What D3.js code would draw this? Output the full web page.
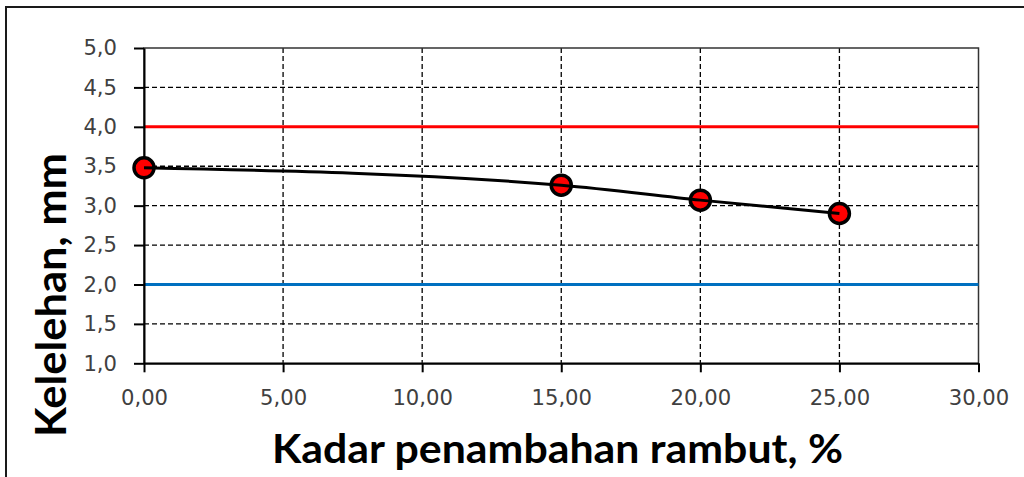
<!DOCTYPE html>
<html><head><meta charset="utf-8">
<script src="https://cdn.jsdelivr.net/npm/d3@7"></script>
<style>html,body{margin:0;padding:0;background:#fff;}svg{display:block;}</style>
</head><body>
<svg id="c" width="1024" height="477"></svg>
<script>
const xValues = [0, 15, 20, 25];
const yValues = [3.48, 3.26, 3.07, 2.90];
const upperLimit = 4.0;
const lowerLimit = 2.0;
const xTicks = [0, 5, 10, 15, 20, 25, 30];
const yTicks = [1.0, 1.5, 2.0, 2.5, 3.0, 3.5, 4.0, 4.5, 5.0];
const xTitle = "Kadar penambahan rambut, %";
const yTitle = "Kelelehan, mm";

const svg = d3.select("#c");
const L = 144, R = 978.5, T = 48, B = 363.3;
const x = d3.scaleLinear().domain([0, 30]).range([L, R]);
const y = d3.scaleLinear().domain([1, 5]).range([B, T]);
const fmt1 = d => d.toFixed(1).replace(".", ",");
const fmt2 = d => d.toFixed(2).replace(".", ",");
const SX = 1.12;

// outer frame
svg.append("rect").attr("x", 6).attr("y", 7).attr("width", 1030).attr("height", 490)
  .attr("fill", "none").attr("stroke", "#1a1a1a").attr("stroke-width", 2);

// gridlines
const grid = svg.append("g").attr("stroke", "#000").attr("stroke-width", 1.3).attr("stroke-dasharray", "5,3");
grid.selectAll("line.h").data(yTicks.filter(d => d > 1 && d < 5)).join("line")
  .attr("x1", L).attr("x2", R).attr("y1", d => y(d)).attr("y2", d => y(d));
grid.selectAll("line.v").data(xTicks.filter(d => d > 0 && d < 30)).join("line")
  .attr("y1", T).attr("y2", B).attr("x1", d => x(d)).attr("x2", d => x(d));

// plot border
svg.append("rect").attr("x", L).attr("y", T).attr("width", R - L).attr("height", B - T)
  .attr("fill", "none").attr("stroke", "#333").attr("stroke-width", 1.5);

// limit lines
svg.append("line").attr("x1", L).attr("x2", R).attr("y1", y(upperLimit)).attr("y2", y(upperLimit))
  .attr("stroke", "#ff0000").attr("stroke-width", 3);
svg.append("line").attr("x1", L).attr("x2", R).attr("y1", y(lowerLimit)).attr("y2", y(lowerLimit))
  .attr("stroke", "#0070c0").attr("stroke-width", 3);

// axes
const yAxis = svg.append("g").attr("transform", `translate(${L},0)`)
  .call(d3.axisLeft(y).tickValues(yTicks).tickFormat(fmt1).tickSizeOuter(0).tickSizeInner(10).tickPadding(17));
const xAxis = svg.append("g").attr("transform", `translate(0,${B})`)
  .call(d3.axisBottom(x).tickValues(xTicks).tickFormat(fmt2).tickSizeOuter(0).tickSizeInner(9).tickPadding(18));
[yAxis, xAxis].forEach(a => {
  a.attr("font-family", null).attr("font-size", null);
  a.select(".domain").attr("stroke", "#000").attr("stroke-width", 2);
  a.selectAll(".tick line").attr("stroke", "#000").attr("stroke-width", 2);
  a.selectAll("text").attr("font-family", "'DejaVu Sans Condensed', 'DejaVu Sans', sans-serif")
    .attr("font-stretch", "condensed").attr("font-size", 21).attr("fill", "#404040");
});
yAxis.selectAll("text").each(function () {
  const t = d3.select(this);
  const ox = +t.attr("x");
  t.attr("x", ox / SX).attr("transform", `scale(${SX},1)`);
});
xAxis.selectAll("text").attr("transform", `scale(${SX},1)`);

// markers
const pts = xValues.map((v, i) => [v, yValues[i]]);
svg.append("g").selectAll("circle").data(pts).join("circle")
  .attr("cx", d => x(d[0])).attr("cy", d => y(d[1])).attr("r", 10)
  .attr("fill", "#ff0000").attr("stroke", "#000").attr("stroke-width", 3.5);

// line
svg.append("path").datum(pts)
  .attr("d", d3.line().x(d => x(d[0])).y(d => y(d[1])).curve(d3.curveMonotoneX))
  .attr("fill", "none").attr("stroke", "#000").attr("stroke-width", 3);

// titles
svg.append("text").attr("x", 557.5).attr("y", 463).attr("text-anchor", "middle")
  .attr("font-family", "Lato").attr("font-weight", "bold").attr("font-size", 41).attr("fill", "#000")
  .attr("textLength", 571).attr("lengthAdjust", "spacingAndGlyphs").text(xTitle);
svg.append("text").attr("transform", "translate(66,295) rotate(-90)").attr("text-anchor", "middle")
  .attr("font-family", "Lato").attr("font-weight", "bold").attr("font-size", 42).attr("fill", "#000")
  .attr("textLength", 284).attr("lengthAdjust", "spacingAndGlyphs").text(yTitle);
</script>
</body></html>
